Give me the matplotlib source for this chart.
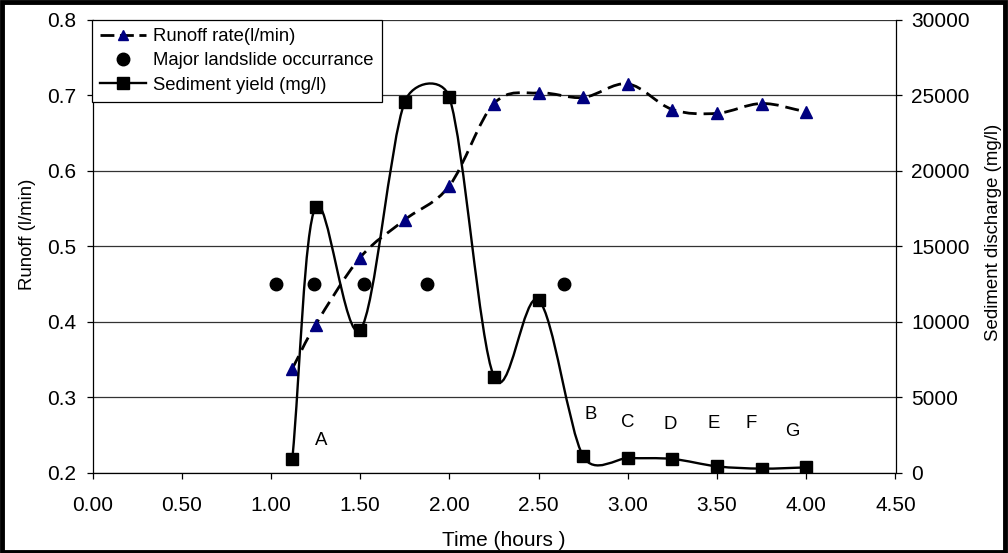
import numpy as np
import matplotlib
matplotlib.use('Agg')
import matplotlib.pyplot as plt
from matplotlib.path import Path
from matplotlib.patches import PathPatch, Rectangle
from matplotlib.lines import Line2D

plt.rcParams['font.family'] = ['Liberation Sans', 'DejaVu Sans']

# ---- data ----
time_h = [1.12, 1.25, 1.5, 1.75, 2.0, 2.25, 2.5, 2.75, 3.0, 3.25, 3.5, 3.75, 4.0]
runoff = [0.338, 0.396, 0.485, 0.535, 0.580, 0.689, 0.703, 0.697, 0.715, 0.681, 0.676, 0.689, 0.678]
sediment = [920, 17600, 9450, 24570, 24860, 6350, 11430, 1080, 970, 910, 420, 270, 350]
landslide_t = [1.03, 1.24, 1.52, 1.875, 2.64]
landslide_y = [0.45, 0.45, 0.45, 0.45, 0.45]
point_labels = ['A', 'B', 'C', 'D', 'E', 'F', 'G']
label_t = [1.28, 2.79, 3.0, 3.24, 3.48, 3.69, 3.92]
label_y = [0.242, 0.277, 0.266, 0.264, 0.265, 0.265, 0.254]
x_ticks = [0.0, 0.5, 1.0, 1.5, 2.0, 2.5, 3.0, 3.5, 4.0, 4.5]
left_ticks = [0.2, 0.3, 0.4, 0.5, 0.6, 0.7, 0.8]
right_ticks = [0, 5000, 10000, 15000, 20000, 25000, 30000]
legend_labels = ['Runoff rate(l/min)', 'Major landslide occurrance', 'Sediment yield (mg/l)']

W, H = 1008, 553
fig = plt.figure(figsize=(W / 100, H / 100), dpi=100)
ax = fig.add_axes([92.5 / W, 1 - 472.7 / H, (895.5 - 92.5) / W, (472.7 - 19.7) / H])
ax2 = ax.twinx()

ax.set_xlim(0, 4.5)
ax.set_ylim(0.2, 0.8)
ax2.set_ylim(0, 30000)


def excel_smooth_path(axis, xs, ys):
    """Excel-style smoothed line: cubic Bezier segments computed in screen space."""
    tr = axis.transData
    pts = tr.transform(np.column_stack([xs, ys]))
    n = len(pts)
    verts = [pts[0]]
    codes = [Path.MOVETO]
    for i in range(n - 1):
        p0 = pts[max(i - 1, 0)]
        p1 = pts[i]
        p2 = pts[i + 1]
        p3 = pts[min(i + 2, n - 1)]
        d02 = np.hypot(*(p2 - p0))
        d12 = np.hypot(*(p2 - p1))
        d13 = np.hypot(*(p3 - p1))
        f1 = 1 / 6 if i > 0 else 1 / 3
        f2 = 1 / 6 if i + 2 <= n - 1 else 1 / 3
        ok1 = d02 / 6 < d12 / 2
        ok2 = d13 / 6 < d12 / 2
        if ok1 and ok2:
            b1 = p1 + (p2 - p0) * f1
            b2 = p2 - (p3 - p1) * f2
        elif not ok1 and not ok2:
            b1 = p1 + (p2 - p0) * d12 / 2 / d02
            b2 = p2 - (p3 - p1) * d12 / 2 / d13
        elif not ok1:
            b1 = p1 + (p2 - p0) * d12 / 2 / d02
            b2 = p2 - (p3 - p1) * d12 / 2 / d02
        else:
            b1 = p1 + (p2 - p0) * d12 / 2 / d13
            b2 = p2 - (p3 - p1) * d12 / 2 / d13
        verts += [b1, b2, p2]
        codes += [Path.CURVE4] * 3
    verts = tr.inverted().transform(np.array(verts))
    return Path(verts, codes)


ax.set_xticks(x_ticks)
ax.set_xticklabels([f'{v:.2f}' for v in x_ticks])
ax.set_yticks(left_ticks)
ax.set_yticklabels([f'{v:.1f}' for v in left_ticks])
ax2.set_yticks(right_ticks)
ax2.set_yticklabels([str(v) for v in right_ticks])

ax.yaxis.grid(True, color='#333333', linewidth=0.9)
ax.set_axisbelow(True)

for a in (ax, ax2):
    a.spines['top'].set_visible(False)
    a.tick_params(direction='out', length=4.5, width=0.9, labelsize=15, colors='black')
    for s in a.spines.values():
        s.set_linewidth(0.9)
ax.spines['right'].set_visible(False)
ax2.spines['left'].set_visible(False)
ax2.spines['bottom'].set_visible(False)
ax.tick_params(axis='y', pad=7)
ax.tick_params(axis='x', pad=12)
ax2.tick_params(axis='y', pad=7)

# Runoff (left axis): dashed smoothed line with navy triangles
rp = PathPatch(excel_smooth_path(ax, time_h, runoff), facecolor='none', edgecolor='black',
               linewidth=2.0, linestyle=(0, (5, 2.5)), zorder=3, transform=ax.transData)
ax.add_patch(rp)
ax.plot(time_h, runoff, linestyle='none', marker='^', markersize=8,
        color='#000080', zorder=4)

# Landslide occurrence
ax.plot(landslide_t, landslide_y, linestyle='none', marker='o', markersize=9,
        color='black', zorder=4)

# Letters
for t, yv, s in zip(label_t, label_y, point_labels):
    ax.text(t, yv, s, fontsize=13.4, ha='center', va='center', color='black')

# Sediment (right axis): solid smoothed line with squares
sp = PathPatch(excel_smooth_path(ax2, time_h, sediment), facecolor='none', edgecolor='black',
               linewidth=1.7, zorder=3, transform=ax2.transData)
ax2.add_patch(sp)
ax2.plot(time_h, sediment, linestyle='none', marker='s', markersize=8.5,
         color='black', zorder=4)

# Axis titles
fig.text(28 / W, 1 - 234 / H, 'Runoff (l/min)', rotation=90, ha='center', va='center', fontsize=13.4)
fig.text(993 / W, 1 - 232 / H, 'Sediment discharge (mg/l)', rotation=90, ha='center', va='center',
         fontsize=13.4)
fig.text(504 / W, 1 - 540 / H, 'Time (hours )', ha='center', va='center', fontsize=15)

handles = [
    Line2D([], [], color='black', linestyle=(0, (5, 2)), linewidth=2.0, marker='^',
           markersize=7, markerfacecolor='#000080', markeredgecolor='#000080'),
    Line2D([], [], linestyle='none', marker='o', markersize=9, color='black'),
    Line2D([], [], color='black', linewidth=1.7, marker='s', markersize=8.5),
]
leg = ax2.legend(handles, legend_labels,
                 loc='upper left', bbox_to_anchor=(-0.001, 1.0), borderaxespad=0,
                 fancybox=False, framealpha=1, edgecolor='black', fontsize=13.3,
                 handlelength=2.5, handletextpad=0.36, labelspacing=0.4, borderpad=0.45)
leg.get_frame().set_linewidth(0.9)
leg.set_zorder(10)

fig.patches.append(Rectangle((0.0015, 0.002), 0.996, 0.994, transform=fig.transFigure,
                             fill=False, edgecolor='black', linewidth=3.5))

fig.savefig('out.png', dpi=100)
